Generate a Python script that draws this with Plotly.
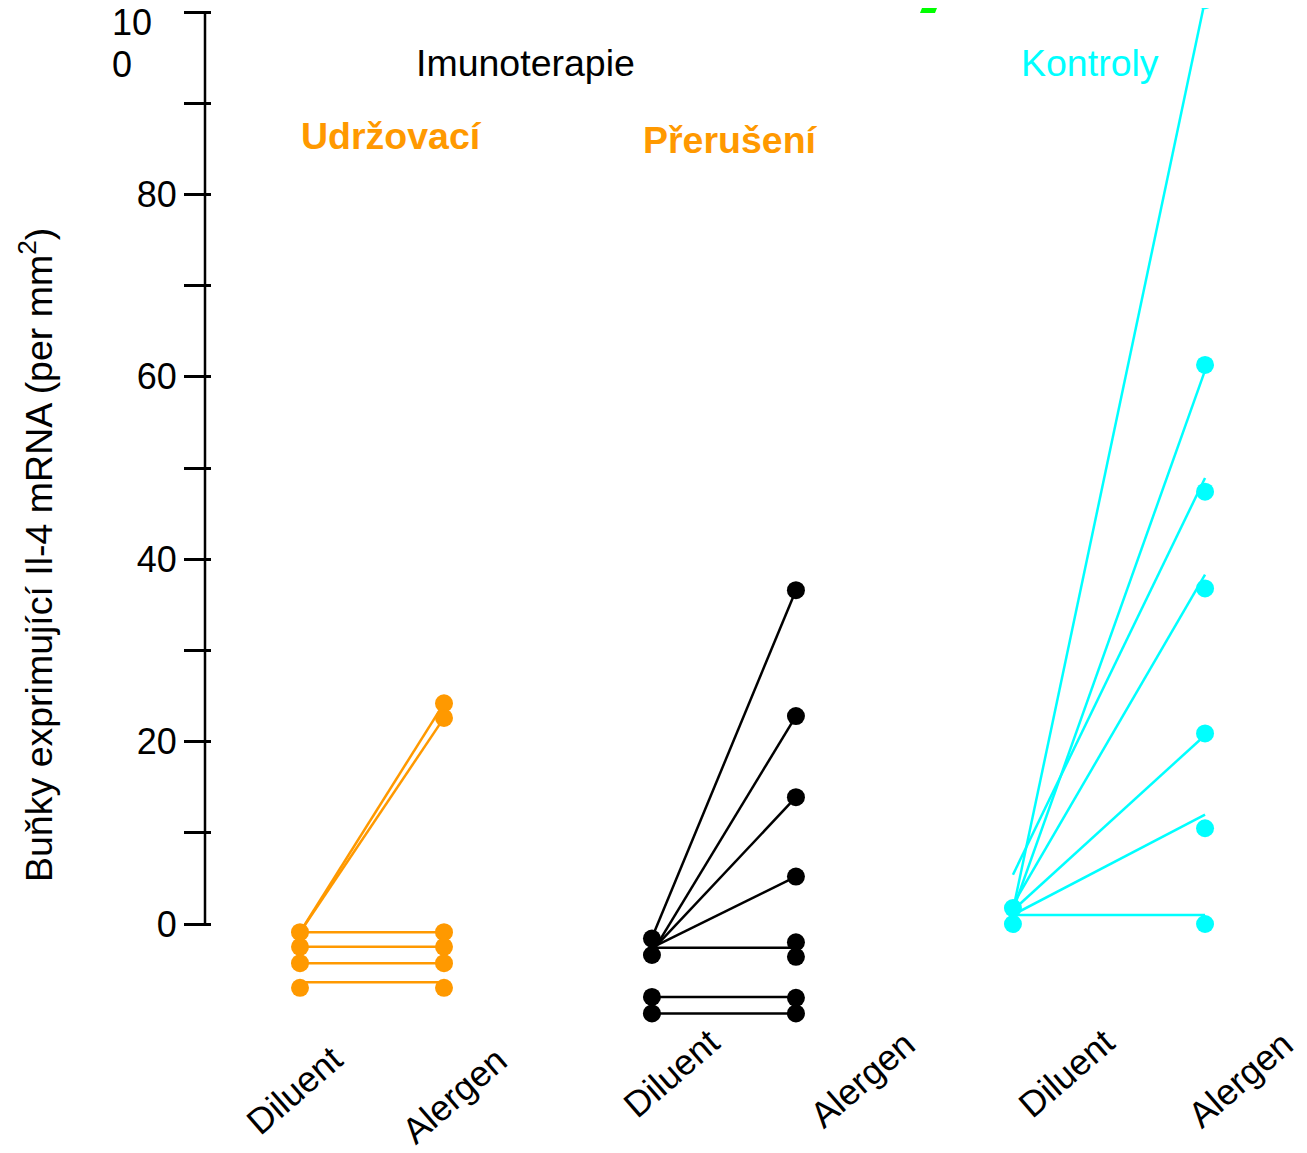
import plotly.graph_objects as go

# ---------------- data ----------------
x_labels = ["Diluent", "Alergen"]
group_names = ["Udržovací", "Přerušení", "Kontroly"]
group_positions = [(1.0, 2.0), (3.444, 4.444), (5.951, 7.285)]
group_colors = ["#FF9900", "#000000", "#00FFFF"]

# Udržovací (maintenance immunotherapy)
udrz_diluent_pts = [-0.9, -2.5, -4.3, -7.0]
udrz_alergen_pts = [24.2, 22.6, -0.9, -2.5, -4.3, -7.0]
udrz_line_start = [-0.9, -0.9, -0.9, -2.5, -4.3, -6.4]
udrz_line_end = [24.2, 22.6, -0.9, -2.5, -4.3, -6.4]

# Přerušení (discontinued immunotherapy)
prer_diluent_pts = [-1.6, -3.4, -8.0, -9.8]
prer_alergen_pts = [36.6, 22.8, 13.9, 5.2, -2.0, -3.6, -8.1, -9.8]
prer_line_start = [-1.5, -3.2, -2.9, -2.6, -2.6, -8.0, -9.8]
prer_line_end = [36.6, 22.8, 13.9, 5.2, -2.6, -8.0, -9.8]

# Kontroly (controls)
kont_diluent_pts = [1.75, 0.0]
kont_alergen_pts = [101.3, 61.3, 47.4, 36.8, 20.9, 10.5, 0.0]
kont_line_start = [1.5, 1.5, 5.4, 2.1, 1.5, 1.0, 1.0]
kont_line_end = [101.3, 60.7, 48.9, 38.3, 20.7, 12.0, 1.0]

y_tickvals = [0, 20, 40, 60, 80]
y_ticktext = ["0", "20", "40", "60", "80"]
y_minor_tickvals = [10, 30, 50, 70, 90, 100]
top_label_lines = ["10", "0"]   # the "100" label, broken over two lines

# ---------------- layout geometry ----------------
OFF = 8                      # page body margin
W, H = 1307 - OFF, 1153 - OFF
ML, MR, MT, MB = 204, 0, 0, 113
PW, PH = W - ML - MR, H - MT - MB
FONT = "Liberation Sans, Arial, sans-serif"
PXU = 9.12                   # pixels per y unit
Y0 = 924 - OFF               # figure pixel of y = 0


def px(x):
    return (x - OFF - ML) / PW


def py(y):
    return (H - MB - (y - OFF)) / PH


fig = go.Figure()

datasets = [
    (udrz_diluent_pts, udrz_alergen_pts, udrz_line_start, udrz_line_end),
    (prer_diluent_pts, prer_alergen_pts, prer_line_start, prer_line_end),
    (kont_diluent_pts, kont_alergen_pts, kont_line_start, kont_line_end),
]

for name, (xd, xa), color, (dpts, apts, ls, le) in zip(group_names, group_positions, group_colors, datasets):
    lx, ly = [], []
    for s, e in zip(ls, le):
        lx += [xd, xa, None]
        ly += [s, e, None]
    fig.add_trace(go.Scatter(x=lx, y=ly, mode="lines", line=dict(color=color, width=2.5),
                             showlegend=False, hoverinfo="skip", name=name))
    fig.add_trace(go.Scatter(x=[xd] * len(dpts) + [xa] * len(apts), y=dpts + apts, mode="markers",
                             marker=dict(color=color, size=18, line=dict(width=0)),
                             showlegend=False, name=name))

x0 = 1 - (300 - OFF - ML) / 144
fig.update_xaxes(range=[x0, x0 + PW / 144], visible=False, showgrid=False, zeroline=False)
fig.update_yaxes(range=[-(H - MB - Y0) / PXU, (Y0 - MT) / PXU],
                 tickmode="array", tickvals=y_tickvals, ticktext=y_ticktext,
                 ticks="outside", ticklen=27, tickwidth=2.5, tickcolor="black",
                 minor=dict(tickmode="array", tickvals=y_minor_tickvals, ticks="outside",
                            ticklen=27, tickwidth=2.5, tickcolor="black"),
                 tickfont=dict(family=FONT, size=36, color="black"),
                 showline=False, showgrid=False, zeroline=False)

# y axis line (only from 0 to 100)
fig.add_shape(type="line", xref="paper", yref="y", x0=px(205), x1=px(205), y0=0, y1=100,
              line=dict(color="black", width=2.5))

# small green stroke at the top edge
fig.add_shape(type="path", xref="paper", yref="paper",
              path=f"M {px(922)},{py(8)} L {px(937)},{py(8)} L {px(935)},{py(13)} L {px(920)},{py(13)} Z",
              fillcolor="#00FF00", line=dict(width=0))

annotations = []


def ann(text, x, y, color="black", size=37.5, bold=False, angle=0, xanchor="center", yanchor="middle"):
    annotations.append(dict(text=f"<b>{text}</b>" if bold else text, x=px(x), y=py(y),
                            xref="paper", yref="paper", showarrow=False, textangle=angle,
                            xanchor=xanchor, yanchor=yanchor,
                            font=dict(family=FONT, size=size, color=color)))


ann(top_label_lines[0], 110, 0, size=36, xanchor="left", yanchor="top")
ann(top_label_lines[1], 110, 65, size=36, xanchor="left")
ann("Imunoterapie", 525, 63)
ann(group_names[0], 391, 136, color=group_colors[0], bold=True)
ann(group_names[1], 730, 140, color=group_colors[0], bold=True)
ann(group_names[2], 1090, 63, color=group_colors[2])
ann("Buňky exprimující Il-4 mRNA (per mm<sup>2</sup>)", 36, 555, angle=-90)

label_centers = [(294, 1090), (454, 1095), (671, 1073), (862, 1079), (1066, 1073), (1240, 1079)]
for i, (cx, cy) in enumerate(label_centers):
    ann(x_labels[i % 2], cx, cy, size=36, angle=-41)

fig.update_layout(width=W, height=H, margin=dict(l=ML, r=MR, t=MT, b=MB),
                  plot_bgcolor="white", paper_bgcolor="white",
                  annotations=annotations, showlegend=False)

fig.write_html("out.html")
